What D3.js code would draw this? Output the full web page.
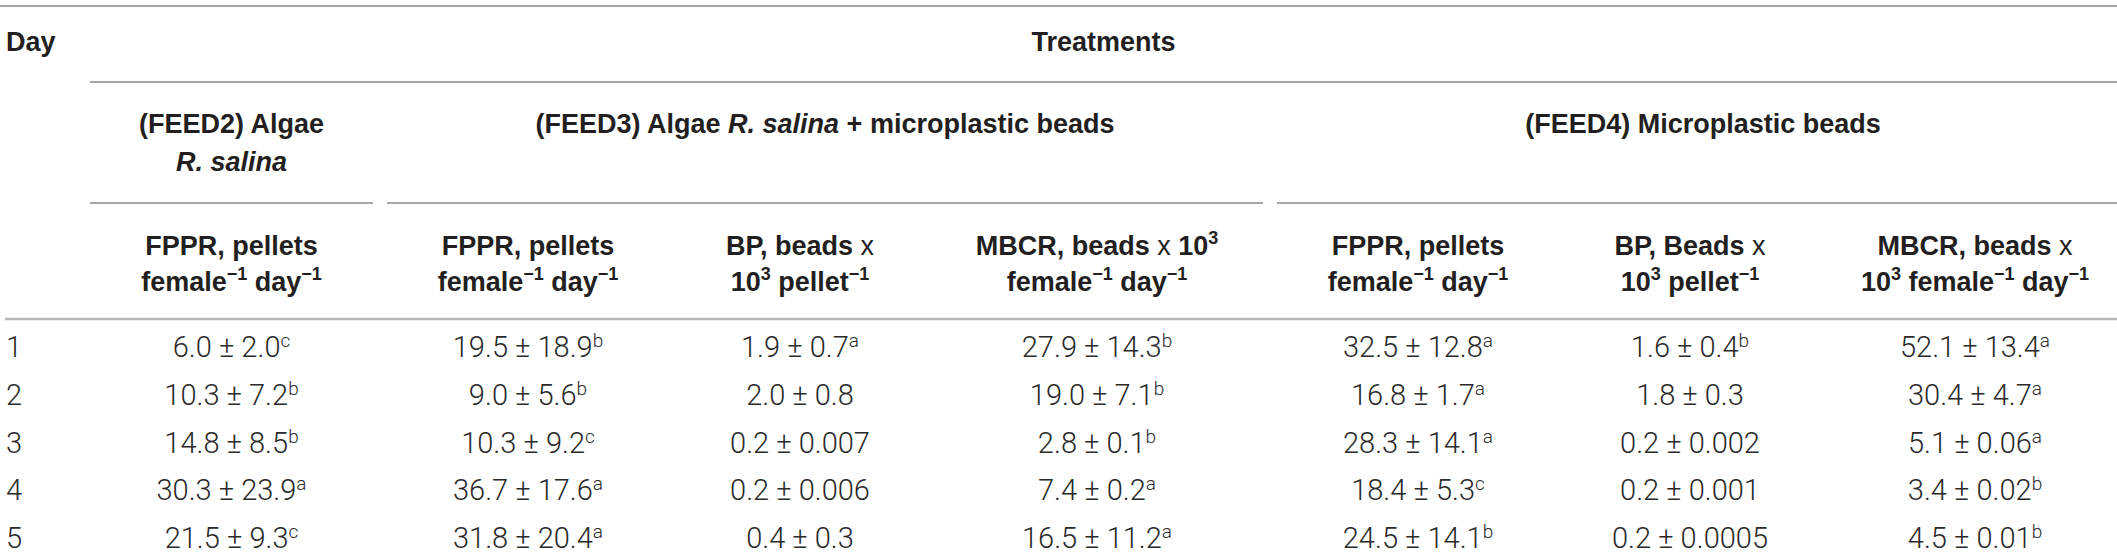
<!DOCTYPE html>
<html>
<head>
    <script src="https://cdnjs.cloudflare.com/ajax/libs/d3/7.8.5/d3.min.js"></script>
    <style>
        body { margin: 0; background: #fff; }
        .head { font-family: "Liberation Sans", Arial, sans-serif; font-weight: bold; font-size: 27px; fill: #231f20; }
        .head .reg { font-weight: normal; }
        .cell { font-family: Roboto, "Liberation Sans", sans-serif; font-weight: 300; font-size: 29px; fill: #2a2a2a; }
        .rule { stroke: #8a8a8a; stroke-width: 1.5px; }
        .rule.thick { stroke: #b8b8b8; stroke-width: 2.5px; }
    </style>
</head>
<body>
    <div id="table"></div>
    <script>
        const width = 2117, height = 560;

        // rows
        const days = [1, 2, 3, 4, 5];

        // (FEED2) algae only
        const feed2FpprMean = [6.0, 10.3, 14.8, 30.3, 21.5];
        const feed2FpprSd = ["2.0", "7.2", "8.5", "23.9", "9.3"];
        const feed2FpprSig = ["c", "b", "b", "a", "c"];

        // (FEED3) algae + beads
        const feed3FpprMean = [19.5, 9.0, 10.3, 36.7, 31.8];
        const feed3FpprSd = ["18.9", "5.6", "9.2", "17.6", "20.4"];
        const feed3FpprSig = ["b", "b", "c", "a", "a"];
        const feed3BpMean = [1.9, 2.0, 0.2, 0.2, 0.4];
        const feed3BpSd = ["0.7", "0.8", "0.007", "0.006", "0.3"];
        const feed3BpSig = ["a", "", "", "", ""];
        const feed3MbcrMean = [27.9, 19.0, 2.8, 7.4, 16.5];
        const feed3MbcrSd = ["14.3", "7.1", "0.1", "0.2", "11.2"];
        const feed3MbcrSig = ["b", "b", "b", "a", "a"];

        // (FEED4) beads only
        const feed4FpprMean = [32.5, 16.8, 28.3, 18.4, 24.5];
        const feed4FpprSd = ["12.8", "1.7", "14.1", "5.3", "14.1"];
        const feed4FpprSig = ["a", "a", "a", "c", "b"];
        const feed4BpMean = [1.6, 1.8, 0.2, 0.2, 0.2];
        const feed4BpSd = ["0.4", "0.3", "0.002", "0.001", "0.0005"];
        const feed4BpSig = ["b", "", "", "", ""];
        const feed4MbcrMean = [52.1, 30.4, 5.1, 3.4, 4.5];
        const feed4MbcrSd = ["13.4", "4.7", "0.06", "0.02", "0.01"];
        const feed4MbcrSig = ["a", "a", "a", "b", "b"];

        // header labels, as text segments: b = bold (default), r = regular, i = italic, s = superscript
        const fpprHead = [[{ t: "FPPR, pellets" }], [{ t: "female" }, { t: "−1", s: 1 }, { t: " day" }, { t: "−1", s: 1 }]];
        const bpHead3 = [[{ t: "BP, beads " }, { t: "x", r: 1 }], [{ t: "10" }, { t: "3", s: 1 }, { t: " pellet" }, { t: "−1", s: 1 }]];
        const mbcrHead3 = [[{ t: "MBCR, beads " }, { t: "x", r: 1 }, { t: " 10" }, { t: "3", s: 1 }], [{ t: "female" }, { t: "−1", s: 1 }, { t: " day" }, { t: "−1", s: 1 }]];
        const bpHead4 = [[{ t: "BP, Beads " }, { t: "x", r: 1 }], [{ t: "10" }, { t: "3", s: 1 }, { t: " pellet" }, { t: "−1", s: 1 }]];
        const mbcrHead4 = [[{ t: "MBCR, beads " }, { t: "x", r: 1 }], [{ t: "10" }, { t: "3", s: 1 }, { t: " female" }, { t: "−1", s: 1 }, { t: " day" }, { t: "−1", s: 1 }]];

        const groupHeads = [
            { key: "feed2", label: [[{ t: "(FEED2) Algae" }], [{ t: "R. salina", i: 1 }]] },
            { key: "feed3", label: [[{ t: "(FEED3) Algae " }, { t: "R. salina", i: 1 }, { t: " + microplastic beads" }]] },
            { key: "feed4", label: [[{ t: "(FEED4) Microplastic beads" }]] }
        ];

        const columns = [
            { group: "feed2", head: fpprHead, mean: feed2FpprMean, sd: feed2FpprSd, sig: feed2FpprSig },
            { group: "feed3", head: fpprHead, mean: feed3FpprMean, sd: feed3FpprSd, sig: feed3FpprSig },
            { group: "feed3", head: bpHead3, mean: feed3BpMean, sd: feed3BpSd, sig: feed3BpSig },
            { group: "feed3", head: mbcrHead3, mean: feed3MbcrMean, sd: feed3MbcrSd, sig: feed3MbcrSig },
            { group: "feed4", head: fpprHead, mean: feed4FpprMean, sd: feed4FpprSd, sig: feed4FpprSig },
            { group: "feed4", head: bpHead4, mean: feed4BpMean, sd: feed4BpSd, sig: feed4BpSig },
            { group: "feed4", head: mbcrHead4, mean: feed4MbcrMean, sd: feed4MbcrSd, sig: feed4MbcrSig }
        ];

        // layout
        const dayWidth = 83;
        const colWidths = [297, 296, 248, 346, 296, 248, 322];
        const gap = 7;
        const edges = [dayWidth, ...d3.cumsum(colWidths).map(v => v + dayWidth)];
        columns.forEach((c, i) => { c.x0 = edges[i]; c.x1 = edges[i + 1]; c.cx = (c.x0 + c.x1) / 2; });
        groupHeads.forEach(g => {
            const cs = columns.filter(c => c.group === g.key);
            g.x0 = d3.min(cs, c => c.x0);
            g.x1 = d3.max(cs, c => c.x1);
        });

        const y = d3.scalePoint().domain(days).range([357, 548]);
        const fmt = d3.format(".1f");

        const svg = d3.select("#table").append("svg").attr("width", width).attr("height", height);

        function writeLine(sel, segs) {
            let up = false;
            segs.forEach(s => {
                const ts = sel.append("tspan").text(s.t);
                if (s.r) ts.attr("class", "reg");
                if (s.i) ts.attr("font-style", "italic");
                if (s.s && !up) { ts.attr("dy", -11).attr("font-size", 18); up = true; }
                else if (s.s) ts.attr("font-size", 18);
                else if (up) { ts.attr("dy", 11); up = false; }
            });
        }

        function label(x, yBase, lines, lineH, anchor) {
            lines.forEach((segs, k) => {
                const t = svg.append("text").attr("class", "head")
                    .attr("x", x).attr("y", yBase + k * lineH)
                    .attr("text-anchor", anchor || "middle");
                writeLine(t, segs);
            });
        }

        // rules
        const rules = [
            { x0: 0, x1: width, y: 6, cls: "rule" },
            { x0: dayWidth + gap, x1: width, y: 82, cls: "rule" },
            ...groupHeads.map(g => ({ x0: g.x0 + gap, x1: g.x1 - gap, y: 203, cls: "rule" })),
            { x0: 5, x1: width, y: 319, cls: "rule thick" }
        ];
        svg.append("g").selectAll("line").data(rules).join("line")
            .attr("class", d => d.cls)
            .attr("x1", d => d.x0).attr("x2", d => d.x1)
            .attr("y1", d => d.y).attr("y2", d => d.y);

        // headers
        label(6, 51, [[{ t: "Day" }]], 0, "start");
        label((dayWidth + gap + width) / 2, 51, [[{ t: "Treatments" }]], 0);
        groupHeads.forEach(g => label((g.x0 + g.x1) / 2, 133, g.label, 38));
        columns.forEach(c => label(c.cx, 255, c.head, 36));

        // day column
        svg.append("g").selectAll("text").data(days).join("text")
            .attr("class", "cell")
            .attr("x", 6).attr("y", d => y(d))
            .text(d => d);

        // value cells
        const cells = columns.flatMap(c => days.map((d, i) => ({ cx: c.cx, day: d, mean: c.mean[i], sd: c.sd[i], sig: c.sig[i] })));
        const cellText = svg.append("g").selectAll("text").data(cells).join("text")
            .attr("class", "cell")
            .attr("x", d => d.cx).attr("y", d => y(d.day))
            .attr("text-anchor", "middle");
        cellText.append("tspan").text(d => `${fmt(d.mean)} ± ${d.sd}`);
        cellText.filter(d => d.sig).append("tspan")
            .attr("dy", -10).attr("font-size", 19)
            .text(d => d.sig);
    </script>
</body>
</html>
